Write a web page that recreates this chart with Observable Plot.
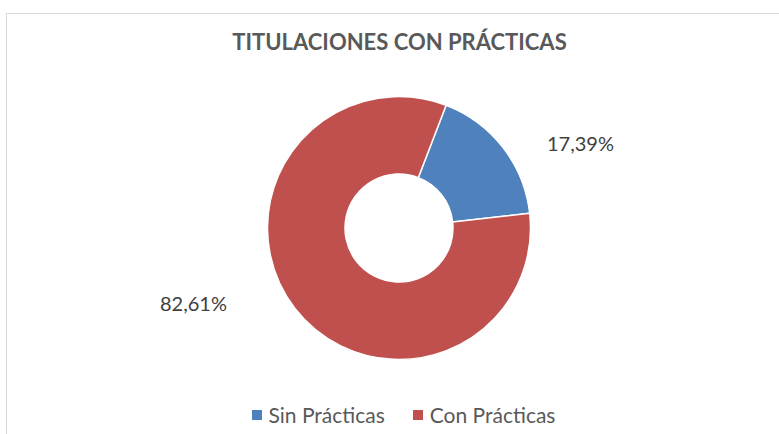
<!DOCTYPE html>
<html><head><meta charset="utf-8">
<script src="https://cdn.jsdelivr.net/npm/d3@7"></script>
<script src="https://cdn.jsdelivr.net/npm/@observablehq/plot@0.6"></script>
<style>
html,body{margin:0;padding:0;background:#fff;}
#wrap{position:relative;width:779px;height:434px;overflow:hidden;font-family:Lato,sans-serif;}
#frame{position:absolute;left:6px;top:13px;width:900px;height:600px;border-left:1px solid #d9d9d9;border-top:1px solid #d9d9d9;box-sizing:border-box;}
#chart{position:absolute;left:0;top:0;}
#legend{position:absolute;left:0;top:402px;width:807px;display:flex;justify-content:center;}
#legend .lg-swatches{margin:0 !important;min-height:0 !important;}
#legend .lg-swatch{margin-right:28px !important;}
#legend .lg-swatch:last-child{margin-right:0 !important;}
#legend .lg-swatch > svg{margin-right:7px !important;}
</style></head><body>
<div id="wrap"><div id="frame"></div><div id="chart"></div><div id="legend"></div></div>
<script>
// ---- data ----
const categories = ["Sin Prácticas", "Con Prácticas"];
const values = [17.39, 82.61];
const labels = ["17,39%", "82,61%"];
const colors = ["#4F81BD", "#C0504D"];
const title = "TITULACIONES CON PRÁCTICAS";

// ---- layout ----
const W = 779, H = 434;
const cx = 399, cy = 228, R = 131.5, innerFrac = 54 / 131.5;
const firstSliceDeg = 21;
const labelPos = [[1.376, 0.64], [-1.567, -0.575]]; // in ring-radius units

const data = categories.map((c, i) => ({category: c, value: values[i], label: labels[i], lx: labelPos[i][0], ly: labelPos[i][1]}));
const a0 = firstSliceDeg * Math.PI / 180;
const arcs = d3.pie().sort(null).value(d => d.value).startAngle(a0).endAngle(a0 + 2 * Math.PI)(data);

function ring(index, scales) {
  const {x, y, color} = scales;
  const outer = x(1) - x(0);
  const arc = d3.arc().innerRadius(outer * innerFrac).outerRadius(outer);
  const g = d3.create("svg:g").attr("transform", `translate(${x(0)},${y(0)})`);
  g.selectAll("path").data(arcs).join("path")
    .attr("d", arc)
    .attr("fill", d => color(d.data.category))
    .attr("stroke", "#fff")
    .attr("stroke-width", 1.5)
    .attr("stroke-linejoin", "round");
  return g.node();
}

const chart = Plot.plot({
  width: W, height: H,
  margin: 0,
  style: {background: "transparent", overflow: "visible"},
  x: {domain: [-1, 1], range: [cx - R, cx + R], axis: null},
  y: {domain: [-1, 1], range: [cy + R, cy - R], axis: null},
  color: {domain: categories, range: colors},
  marks: [
    Plot.dot(data, {x: "lx", y: "ly", fill: "category", r: 0}),
    ring,
    Plot.text(data, {x: "lx", y: "ly", text: "label", fontSize: 20, fill: "#404040", fontFamily: "Lato, sans-serif"}),
    Plot.text([title], {x: () => 0, frameAnchor: "top", lineAnchor: "top", dy: 34, text: d => d, fontSize: 22, fontWeight: "bold", fill: "#595959", fontFamily: "Lato, sans-serif"})
  ]
});
document.getElementById("chart").append(chart);

const legend = Plot.legend({
  color: {domain: categories, range: colors},
  swatchSize: 10,
  className: "lg",
  style: {fontFamily: "Lato, sans-serif", fontSize: "21px", color: "#595959"}
});
document.getElementById("legend").append(legend);
</script>
</body></html>
